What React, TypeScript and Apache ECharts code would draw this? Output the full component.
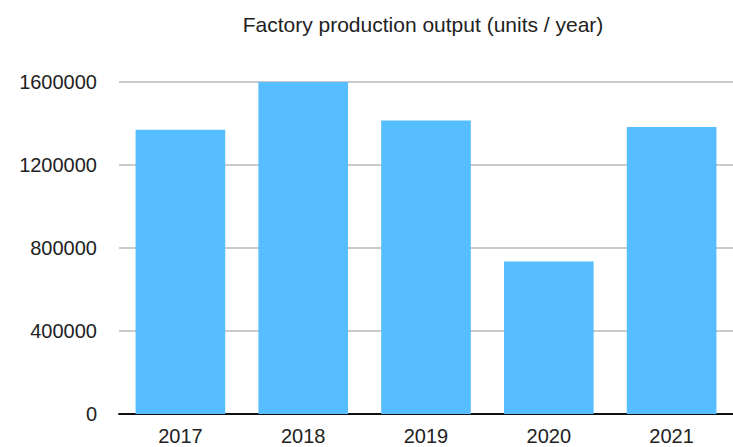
import React, { useEffect, useRef } from "react";
import * as echarts from "echarts";

const titleText = "Factory production output (units / year)";
const years = ["2017", "2018", "2019", "2020", "2021"];
const output = [1370000, 1600000, 1415000, 735000, 1383000];
const yTicks = { min: 0, max: 1600000, interval: 400000 };

export default function App() {
  const ref = useRef<HTMLDivElement>(null);
  useEffect(() => {
    if (!ref.current) return;
    const chart = echarts.init(ref.current, undefined, { renderer: "svg" });
    const font = "'Liberation Sans', Arial, Helvetica, sans-serif";
    chart.setOption({
      animation: false,
      backgroundColor: "#ffffff",
      textStyle: { fontFamily: font },
      title: {
        text: titleText,
        left: 418,
        textAlign: "center",
        top: 9,
        textStyle: { fontSize: 21, fontWeight: "normal", color: "#222222", fontFamily: font },
      },
      grid: { left: 119, top: 82, width: 617, height: 332, containLabel: false },
      xAxis: {
        type: "category",
        data: years,
        axisLine: { show: true, lineStyle: { color: "#111111", width: 2 } },
        axisTick: { show: false },
        axisLabel: { margin: 12, fontSize: 20, color: "#222222", fontFamily: font },
        splitLine: { show: false },
      },
      yAxis: {
        type: "value",
        min: yTicks.min,
        max: yTicks.max,
        interval: yTicks.interval,
        axisLine: { show: false },
        axisTick: { show: false },
        axisLabel: {
          margin: 22,
          fontSize: 20,
          color: "#222222",
          fontFamily: font,
          padding: [4, 0, 0, 0],
          formatter: (v: number) => String(v),
        },
        splitLine: { show: true, lineStyle: { color: "#b8b8b8", width: 1.5 } },
      },
      series: [
        {
          type: "bar",
          data: output,
          barCategoryGap: "27%",
          itemStyle: { color: "#56befe" },
        },
      ],
    });
    return () => chart.dispose();
  }, []);
  return <div ref={ref} style={{ width: 733, height: 447, position: "absolute", left: 0, top: 0 }} />;
}
